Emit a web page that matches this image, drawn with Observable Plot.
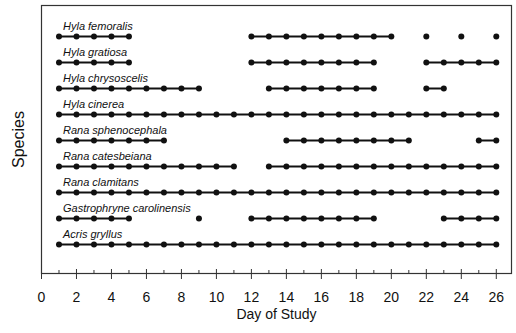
<!DOCTYPE html>
<html>
<head>
<meta charset="utf-8">
<script src="https://cdn.jsdelivr.net/npm/d3@7"></script>
<script src="https://cdn.jsdelivr.net/npm/@observablehq/plot@0.6"></script>
<style>
  body { margin: 0; background: #fff; }
  svg { font-family: "Liberation Sans", Arial, sans-serif; }
</style>
</head>
<body>
<div id="chart"></div>
<script>
const species = [
  "Hyla femoralis", "Hyla gratiosa", "Hyla chrysoscelis", "Hyla cinerea",
  "Rana sphenocephala", "Rana catesbeiana", "Rana clamitans",
  "Gastrophryne carolinensis", "Acris gryllus"
];
// days on which each species was recorded
const hylaFemoralis = [1,2,3,4,5,12,13,14,15,16,17,18,19,20,22,24,26];
const hylaGratiosa = [1,2,3,4,5,12,13,14,15,16,17,18,19,22,23,24,25,26];
const hylaChrysoscelis = [1,2,3,4,5,6,7,8,9,13,14,15,16,17,18,19,22,23];
const hylaCinerea = [1,2,3,4,5,6,7,8,9,10,11,12,13,14,15,16,17,18,19,20,21,22,23,24,25,26];
const ranaSphenocephala = [1,2,3,4,5,6,7,14,15,16,17,18,19,20,21,25,26];
const ranaCatesbeiana = [1,2,3,4,5,6,7,8,9,10,11,13,14,15,16,17,18,19,20,21,22,23,24,25,26];
const ranaClamitans = [1,2,3,4,5,6,7,8,9,10,11,12,13,14,15,16,17,18,19,20,21,22,23,24,25,26];
const gastrophryne = [1,2,3,4,5,9,12,13,14,15,16,17,18,19,23,24,25,26];
const acrisGryllus = [1,2,3,4,5,6,7,8,9,10,11,12,13,14,15,16,17,18,19,20,21,22,23,24,25,26];
const dayLists = [hylaFemoralis, hylaGratiosa, hylaChrysoscelis, hylaCinerea,
  ranaSphenocephala, ranaCatesbeiana, ranaClamitans, gastrophryne, acrisGryllus];
const majorTicks = [0,2,4,6,8,10,12,14,16,18,20,22,24,26];
const minorTicks = [1,3,5,7,9,11,13,15,17,19,21,23,25];

const dots = [];
const segments = [];
species.forEach((s, i) => {
  const days = dayLists[i];
  days.forEach(d => dots.push({species: s, day: d}));
  for (let k = 0; k < days.length - 1; k++) {
    if (days[k + 1] - days[k] === 1) segments.push({species: s, start: days[k], end: days[k + 1]});
  }
});
const labels = species.map((s, i) => ({species: s, day: dayLists[i][0]}));

const chart = Plot.plot({
  width: 516,
  height: 333,
  marginLeft: 41,
  marginRight: 5,
  marginTop: 5,
  marginBottom: 60,
  style: {fontFamily: "'Liberation Sans', Arial, sans-serif", color: "#111"},
  x: {domain: [0, 26.87], label: null},
  y: {type: "point", domain: species, padding: 1.0, align: 0.51, axis: null},
  marks: [
    Plot.frame({stroke: "#333", strokeWidth: 1.2}),
    Plot.ruleY(segments, {y: "species", x1: "start", x2: "end", stroke: "#111", strokeWidth: 2}),
    Plot.dot(dots, {x: "day", y: "species", r: 3, fill: "#111", stroke: "none"}),
    Plot.text(labels, {x: "day", y: "species", text: "species", textAnchor: "start", dx: 4, dy: -10.5,
      fontStyle: "italic", fontSize: 11, fill: "#111"}),
    Plot.axisX({ticks: majorTicks, tickSize: 6, tickPadding: 13, fontSize: 14, stroke: "#333", label: null, tickFormat: d => String(d)}),
    Plot.axisX({ticks: majorTicks, tickSize: -4, text: null, stroke: "#333", label: null}),
    Plot.axisX({ticks: minorTicks, tickSize: -3, text: null, stroke: "#333", label: null}),
    Plot.text(["Day of Study"], {frameAnchor: "bottom", textAnchor: "middle", lineAnchor: "middle", dy: 41, fontSize: 14, fill: "#111"}),
    Plot.text(["Species"], {frameAnchor: "left", textAnchor: "middle", lineAnchor: "middle", rotate: -90, dx: -23, fontSize: 16, fill: "#111"})
  ]
});
document.getElementById("chart").appendChild(chart);
</script>
</body>
</html>
